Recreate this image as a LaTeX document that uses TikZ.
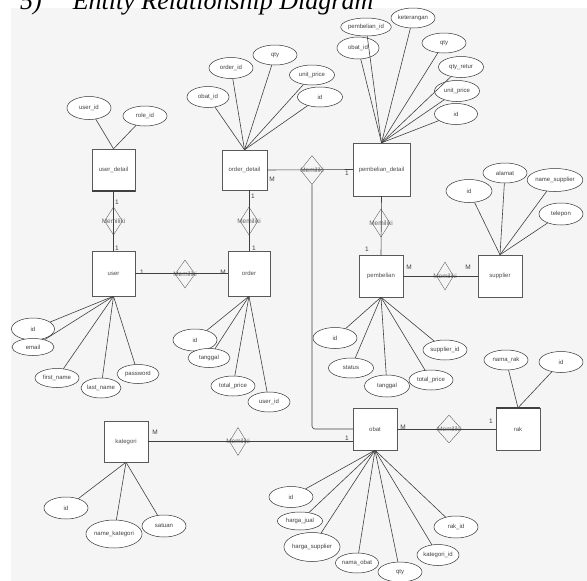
\documentclass[tikz,border=0pt]{standalone}
\usepackage{fontspec}
\setmainfont{Liberation Sans}
\newfontfamily\titlefont{Liberation Serif}
\usetikzlibrary{shapes.geometric}

\begin{document}
\begin{tikzpicture}[x=1pt,y=-1pt,
  ent/.style={draw=black!65, fill=white, inner sep=0pt,
    font=\fontsize{6}{7}\selectfont, text=black!70},
  attr/.style={ellipse, draw=black!80, line width=0.5pt, fill=white, minimum width=44pt,
    minimum height=21pt, inner sep=0pt, font=\fontsize{6}{7}\selectfont, text=black!75},
  rel/.style={diamond, draw=black!60, minimum width=20pt, minimum height=28pt,
    inner sep=0pt, label={[font=\fontsize{6.5}{7}\selectfont, text=black!60, inner sep=0pt]center:Memiliki}},
  card/.style={font=\fontsize{6.5}{7}\selectfont, text=black!75, inner sep=0pt},
  link/.style={draw=black!75, line width=0.6pt},
  edge/.style={draw=black!75, line width=1.6pt},
]
\useasboundingbox (0,0) rectangle (587,581);
\fill[black!4] (11,8) rectangle (587,581);
\node[anchor=base west, inner sep=0pt, font=\titlefont\itshape\fontsize{26}{30}\selectfont]
  (title) at (20,9) {5)\hspace{31pt}Entity Relationship Diagram};

% entities
\node[ent, minimum width=43pt, minimum height=42pt] (ud) at (113.5,170) {user\_detail};
\node[ent, minimum width=45pt, minimum height=40pt] (od) at (244.5,170) {order\_detail};
\node[ent, minimum width=57pt, minimum height=53pt] (pd) at (381.5,169.5) {pembelian\_detail};
\node[ent, minimum width=43pt, minimum height=45pt] (us) at (113.5,273.5) {user};
\node[ent, minimum width=42pt, minimum height=45pt] (or) at (249,273.5) {order};
\node[ent, minimum width=44pt, minimum height=42pt] (pb) at (381,276) {pembelian};
\node[ent, minimum width=44pt, minimum height=42pt] (sp) at (500,276) {supplier};
\node[ent, minimum width=44pt, minimum height=41pt] (kt) at (126,441.5) {kategori};
\node[ent, minimum width=44pt, minimum height=42pt] (ob) at (375,429) {obat};
\node[ent, minimum width=44pt, minimum height=42pt] (rk) at (518,429) {rak};
\draw[edge] (ud.south west) -- (ud.south east);
\draw[edge] (rk.north west) -- (rk.north east);

% relationships
\node[rel, minimum width=18pt] (r1) at (113.5,221) {};
\node[rel, minimum width=18pt] (r2) at (249,221) {};
\node[rel] (r3) at (185,274) {};
\node[rel, minimum width=23pt, minimum height=29pt] (r4) at (312,170) {};
\node[rel, minimum width=18pt] (r5) at (381,223) {};
\node[rel, minimum width=17pt] (r6) at (445,276) {};
\node[rel, minimum width=17pt] (r7) at (238,441.5) {};
\node[rel, minimum width=25pt] (r8) at (449,429) {};

% relationship lines
\draw[link] (ud.south) -- (us.north);
\draw[link] (od.south -| r2) -- (or.north -| r2);
\draw[link] (us.east) -- (or.west);
\draw[link] (od.east) -- (pd.west);
\draw[link, rounded corners=3pt] (r4.south) |- (ob.west);
\draw[link] (pd.south) -- (pb.north);
\draw[link] (pb.east) -- (sp.west);
\draw[link] (kt.east) -- (kt.east -| ob.west);
\draw[link] (ob.east) -- (rk.west);

% cardinalities
\node[card] (c1) at (117,202) {1};
\node[card] (c2) at (117,248) {1};
\node[card] (c3) at (253,196) {1};
\node[card] (c4) at (254,248) {1};
\node[card] (c5) at (142,272) {1};
\node[card] (c6) at (223,272) {M};
\node[card] (c7) at (272,179) {M};
\node[card] (c8) at (347,173) {1};
\node[card] (c9) at (367,249) {1};
\node[card] (c10) at (409,267) {M};
\node[card] (c11) at (468,267) {M};
\node[card] (c12) at (155,432) {M};
\node[card] (c13) at (347,438) {1};
\node[card] (c14) at (403,427) {M};
\node[card] (c15) at (491,421) {1};

% attributes of user_detail
\node[attr, minimum height=23pt] (a1) at (89,108) {user\_id};
\node[attr, minimum height=20pt] (a2) at (145,116) {role\_id};
\foreach \a in {a1,a2} \draw[link] (\a) -- (ud.north);

% attributes of order_detail
\node[attr, minimum width=42pt] (b1) at (208,97) {obat\_id};
\node[attr] (b2) at (231,68) {order\_id};
\node[attr, minimum height=20pt] (b3) at (275,55) {qty};
\node[attr, minimum width=45pt, minimum height=20pt] (b4) at (312,75) {unit\_price};
\node[attr, minimum width=45pt, minimum height=20pt] (b5) at (320,97) {id};
\foreach \a in {b1,b2,b3,b4,b5} \draw[link] (\a) -- (od.north);

% attributes of pembelian_detail
\node[attr, minimum width=48pt, minimum height=18pt] (d1) at (366,27) {pembelian\_id};
\node[attr, minimum height=20pt] (d2) at (413,18) {keterangan};
\node[attr, minimum width=42pt, minimum height=22pt] (d3) at (358,48) {obat\_id};
\node[attr, minimum height=20pt] (d4) at (444,43) {qty};
\node[attr, minimum width=45pt] (d5) at (461,67) {qty\_retur};
\node[attr, minimum width=45pt] (d6) at (457,91) {unit\_price};
\node[attr, minimum width=43pt] (d7) at (456,114) {id};
\foreach \a in {d1,d2,d3,d4,d5,d6,d7} \draw[link] (\a) -- (pd.north);

% attributes of user
\node[attr, minimum width=43pt, minimum height=22pt] (e1) at (33,329) {id};
\node[attr, minimum width=42pt, minimum height=17pt] (e2) at (33,347) {email};
\node[attr, minimum height=19pt] (e3) at (57,378) {first\_name};
\node[attr, minimum width=40pt, minimum height=20pt] (e4) at (101,388) {last\_name};
\node[attr, minimum width=42pt, minimum height=19pt] (e5) at (138,374) {password};
\foreach \a in {e1,e2,e3,e4,e5} \draw[link] (\a) -- (us.south);

% attributes of order
\node[attr, minimum height=22pt] (f1) at (195,340) {id};
\node[attr, minimum width=42pt, minimum height=19pt] (f2) at (209,358) {tanggal};
\node[attr, minimum height=20pt] (f3) at (233,386) {total\_price};
\node[attr, minimum width=42pt, minimum height=20pt] (f4) at (269,402) {user\_id};
\foreach \a in {f1,f2,f3,f4} \draw[link] (\a) -- (or.south);

% attributes of pembelian
\node[attr] (g1) at (335,338) {id};
\node[attr, minimum width=45pt, minimum height=20pt] (g2) at (351,368) {status};
\node[attr, minimum width=45pt, minimum height=22pt] (g3) at (387,386) {tanggal};
\node[attr, minimum height=20pt] (g4) at (431,380) {total\_price};
\node[attr, minimum height=20pt] (g5) at (445,350) {supplier\_id};
\foreach \a in {g1,g2,g3,g4,g5} \draw[link] (\a) -- (pb.south);

% attributes of supplier
\node[attr, minimum width=46pt, minimum height=23pt] (h1) at (469,191) {id};
\node[attr, minimum height=20pt] (h2) at (505,173) {alamat};
\node[attr, minimum width=53pt, minimum height=23pt] (h3) at (555,180) {name\_supplier};
\node[attr, minimum height=22pt] (h4) at (561,214) {telepon};
\foreach \a in {h1,h2,h3,h4} \draw[link] (\a) -- (sp.north);

% attributes of rak
\node[attr, minimum height=20pt] (k1) at (506,360) {nama\_rak};
\node[attr] (k2) at (561,362) {id};
\foreach \a in {k1,k2} \draw[link] (\a) -- (rk.north);

% attributes of kategori
\node[attr, minimum height=22pt] (m1) at (66,508) {id};
\node[attr, minimum width=56pt, minimum height=28pt] (m2) at (114,534) {name\_kategori};
\node[attr, minimum height=22pt] (m3) at (164,526) {satuan};
\foreach \a in {m1,m2,m3} \draw[link] (\a) -- (kt.south);

% attributes of obat
\node[attr] (n1) at (291,497) {id};
\node[attr, minimum width=45pt, minimum height=18pt] (n2) at (300,521) {harga\_jual};
\node[attr, minimum width=56pt, minimum height=29pt] (n3) at (312,547) {harga\_supplier};
\node[attr, minimum width=43pt, minimum height=20pt] (n4) at (357,563) {nama\_obat};
\node[attr, minimum height=20pt] (n5) at (400,572) {qty};
\node[attr, minimum width=42pt] (n6) at (438,555) {kategori\_id};
\node[attr, minimum height=22pt] (n7) at (456,527) {rak\_id};
\foreach \a in {n1,n2,n3,n4,n5,n6,n7} \draw[link] (\a) -- (ob.south);
\end{tikzpicture}
\end{document}
